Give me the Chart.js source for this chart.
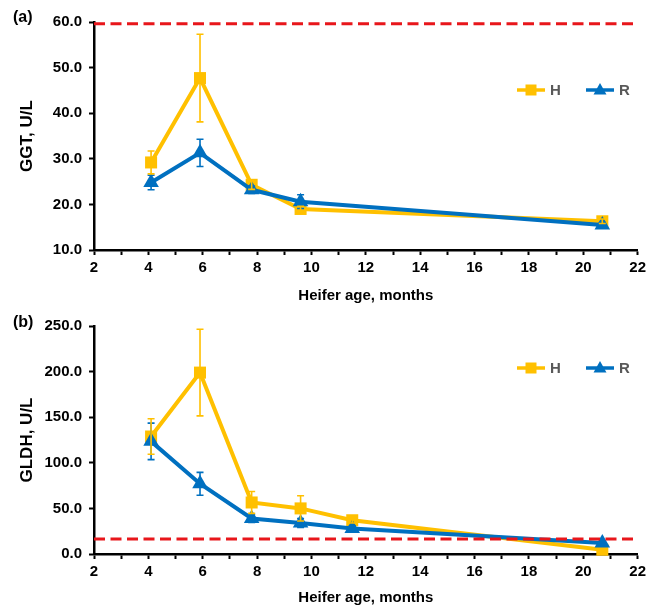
<!DOCTYPE html>
<html><head><meta charset="utf-8">
<script src="https://cdn.jsdelivr.net/npm/chart.js@4"></script>
<style>
html,body{margin:0;padding:0;background:#fff;}
#wrap{position:relative;width:650px;height:607px;}
canvas{position:absolute;left:0;}
</style></head><body>
<div id="wrap">
<canvas id="c1" width="650" height="305" style="top:0"></canvas>
<canvas id="c2" width="650" height="302" style="top:305px"></canvas>
</div>
<script>
// ---- Data (a) GGT ----
const ageGGT = [4.1, 5.9, 7.8, 9.6, 20.7];
const ggtH = [29.2, 47.7, 24.3, 19.0, 16.3];
const ggtHse = [2.5, 9.6, 1.0, 0.6, 0.5];
const ggtR = [24.8, 31.3, 23.2, 20.6, 15.5];
const ggtRse = [1.6, 3.0, 0.8, 1.5, 0.5];
const ggtRef = 59.6;
const ggtTicks = [10, 20, 30, 40, 50, 60];

// ---- Data (b) GLDH ----
const ageGLDH = [4.1, 5.9, 7.8, 9.6, 11.5, 20.7];
const gldhH = [128.8, 198.9, 56.5, 50.0, 37.0, 4.7];
const gldhHse = [19.5, 47.5, 12.0, 13.8, 3.0, 1.0];
const gldhR = [123.5, 77.0, 39.0, 34.0, 28.0, 12.0];
const gldhRse = [20.0, 12.5, 4.5, 5.0, 3.0, 1.0];
const gldhRef = 16.4;
const gldhTicks = [0, 50, 100, 150, 200, 250];

const xRange = [2, 22];
const seriesNames = ['H', 'R'];
const YEL = '#FFC000', BLU = '#0070C0', RED = '#E8161B';
const FONT = "'Liberation Sans', Arial, sans-serif";

function pts(xs, ys) { return xs.map((x, i) => ({x: x, y: ys[i]})); }

const errorBarPlugin = {
  id: 'errorBars',
  afterDatasetsDraw(chart) {
    const ctx = chart.ctx, xs = chart.scales.x, ys = chart.scales.y;
    chart.data.datasets.forEach(ds => {
      if (!ds.errors) return;
      ctx.save();
      ctx.strokeStyle = ds.borderColor;
      ctx.lineWidth = 1.6;
      ds.data.forEach((p, i) => {
        const e = ds.errors[i];
        const px = xs.getPixelForValue(p.x);
        const top = ys.getPixelForValue(p.y + e);
        const bot = ys.getPixelForValue(p.y - e);
        ctx.beginPath();
        ctx.moveTo(px, top); ctx.lineTo(px, bot);
        ctx.moveTo(px - 3.5, top); ctx.lineTo(px + 3.5, top);
        ctx.moveTo(px - 3.5, bot); ctx.lineTo(px + 3.5, bot);
        ctx.stroke();
      });
      ctx.restore();
    });
  }
};

const decorPlugin = {
  id: 'decor',
  afterDraw(chart, args, opts) {
    const ctx = chart.ctx;
    ctx.save();
    // panel tag
    ctx.font = 'bold 16px ' + FONT;
    ctx.fillStyle = '#000';
    ctx.textBaseline = 'middle';
    ctx.textAlign = 'left';
    ctx.fillText(opts.tag, 13, opts.tagY);
    // legend
    const items = [{name: seriesNames[0], color: YEL, shape: 'sq'}, {name: seriesNames[1], color: BLU, shape: 'tri'}];
    const lx = [opts.legendX, opts.legendX + 69];
    items.forEach((it, k) => {
      const cx = lx[k], cy = opts.legendY;
      ctx.strokeStyle = it.color; ctx.fillStyle = it.color; ctx.lineWidth = 3.5;
      ctx.beginPath(); ctx.moveTo(cx - 14, cy); ctx.lineTo(cx + 14, cy); ctx.stroke();
      ctx.beginPath();
      if (it.shape === 'sq') { ctx.rect(cx - 5.5, cy - 5.5, 11, 11); }
      else { ctx.moveTo(cx, cy - 7); ctx.lineTo(cx + 6.5, cy + 4.5); ctx.lineTo(cx - 6.5, cy + 4.5); ctx.closePath(); }
      ctx.fill();
      ctx.fillStyle = '#595959';
      ctx.font = 'bold 15px ' + FONT;
      ctx.fillText(it.name, cx + 19, cy + 1);
    });
    ctx.restore();
  }
};

function makeChart(id, xs, hY, hE, rY, rE, ref, ticks, yTitle, padTop, xHeight, deco) {
  const yMin = ticks[0], yMax = ticks[ticks.length - 1];
  return new Chart(document.getElementById(id), {
    type: 'line',
    data: {
      datasets: [
        {label: 'ref', data: [{x: xRange[0], y: ref}, {x: xRange[1], y: ref}], borderColor: RED, borderWidth: 3,
         borderDash: [11, 5.5], pointRadius: 0, order: -1, clip: false, fill: false},
        {label: seriesNames[1], data: pts(xs, rY), errors: rE, borderColor: BLU, backgroundColor: BLU, borderWidth: 4,
         pointStyle: 'triangle', pointRadius: 9, pointBorderWidth: 0, order: 0, fill: false, clip: false},
        {label: seriesNames[0], data: pts(xs, hY), errors: hE, borderColor: YEL, backgroundColor: YEL, borderWidth: 4,
         pointStyle: 'rect', pointRadius: 8.5, pointBorderWidth: 0, order: 1, fill: false, clip: false}
      ]
    },
    options: {
      responsive: false,
      animation: false,
      devicePixelRatio: 1,
      layout: {padding: {left: 0, right: 11, top: padTop, bottom: 0}},
      plugins: {legend: {display: false}, tooltip: {enabled: false}, decor: deco},
      scales: {
        x: {
          type: 'linear', min: xRange[0], max: xRange[1],
          afterFit: s => { s.height = xHeight; },
          border: {display: true, color: '#000', width: 2.5},
          grid: {drawOnChartArea: false, drawTicks: true, tickLength: 5, tickWidth: 2, tickColor: '#000'},
          ticks: {stepSize: 1, autoSkip: false, maxRotation: 0, padding: 4, color: '#000',
                  font: {family: FONT, size: 15, weight: 'bold'},
                  callback: v => (v % 2 === 0 ? String(v) : '')},
          title: {display: true, text: 'Heifer age, months', color: '#000',
                  font: {family: FONT, size: 15, weight: 'bold'}, padding: {top: 0, bottom: 0}}
        },
        y: {
          min: yMin, max: yMax,
          afterFit: s => { s.width = 94; },
          afterBuildTicks: s => { s.ticks = ticks.map(v => ({value: v})); },
          border: {display: true, color: '#000', width: 2.5},
          grid: {drawOnChartArea: false, drawTicks: true, tickLength: 5, tickWidth: 2, tickColor: '#000'},
          ticks: {padding: 7, color: '#000', font: {family: FONT, size: 15, weight: 'bold'},
                  callback: v => Number(v).toFixed(1)},
          title: {display: true, text: yTitle, color: '#000',
                  font: {family: FONT, size: 17, weight: 'bold'}, padding: {top: 17, bottom: 0}}
        }
      }
    },
    plugins: [errorBarPlugin, decorPlugin]
  });
}

makeChart('c1', ageGGT, ggtH, ggtHse, ggtR, ggtRse, ggtRef, ggtTicks, 'GGT, U/L', 22, 55,
  {tag: '(a)', tagY: 18, legendX: 531, legendY: 90});
makeChart('c2', ageGLDH, gldhH, gldhHse, gldhR, gldhRse, gldhRef, gldhTicks, 'GLDH, U/L', 21, 53,
  {tag: '(b)', tagY: 18, legendX: 531, legendY: 63});
</script>
</body></html>
